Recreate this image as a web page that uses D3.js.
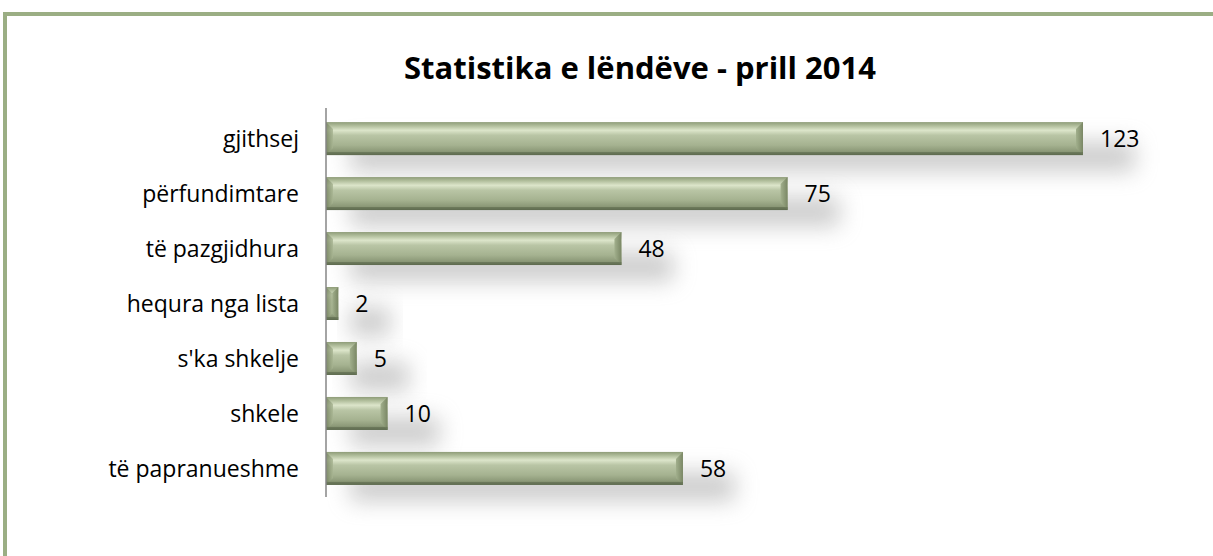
<!DOCTYPE html>
<html>
<head>
<meta charset="utf-8">
<script src="https://cdn.jsdelivr.net/npm/d3@7"></script>
<style>
  body { margin: 0; background: #fff; }
  svg { display: block; }
</style>
</head>
<body>
<div id="chart"></div>
<script>
// data
const categories = ["gjithsej", "përfundimtare", "të pazgjidhura", "hequra nga lista", "s'ka shkelje", "shkele", "të papranueshme"];
const counts = [123, 75, 48, 2, 5, 10, 58];
const chartTitle = "Statistika e lëndëve - prill 2014";

const width = 1213, height = 556;
const margin = { top: 110, left: 326, bottom: 59 };
const font = "'Open Sans', sans-serif";

const svg = d3.select("#chart")
    .append("svg")
    .attr("width", width)
    .attr("height", height);

const defs = svg.append("defs");

// body of the bar, light band near the top
const bodyGrad = defs.append("linearGradient")
    .attr("id", "barBody")
    .attr("x1", 0).attr("y1", 0).attr("x2", 0).attr("y2", 1);
[[0, "#8e9c78"], [0.12, "#b3c09e"], [0.25, "#dce5ca"], [0.4, "#b9c5a5"], [0.7, "#a5b290"], [0.9, "#8a9776"], [1, "#5f6b50"]]
    .forEach(s => bodyGrad.append("stop").attr("offset", s[0]).attr("stop-color", s[1]));

const endGrad = defs.append("linearGradient")
    .attr("id", "barEnd")
    .attr("x1", 0).attr("y1", 0).attr("x2", 1).attr("y2", 0);
endGrad.append("stop").attr("offset", 0).attr("stop-color", "#a2b08d");
endGrad.append("stop").attr("offset", 1).attr("stop-color", "#7a8765");

const startGrad = defs.append("linearGradient")
    .attr("id", "barStart")
    .attr("x1", 0).attr("y1", 0).attr("x2", 1).attr("y2", 0);
startGrad.append("stop").attr("offset", 0).attr("stop-color", "#74815f");
startGrad.append("stop").attr("offset", 1).attr("stop-color", "#a8b592");

const blur = defs.append("filter")
    .attr("id", "softShadow")
    .attr("x", "-30%").attr("y", "-100%")
    .attr("width", "160%").attr("height", "300%");
blur.append("feGaussianBlur").attr("stdDeviation", 11);

// frame
svg.append("rect")
    .attr("x", 5).attr("y", 14)
    .attr("width", width + 10).attr("height", height + 10)
    .attr("fill", "none")
    .attr("stroke", "#9bae84")
    .attr("stroke-width", 4);

svg.append("text")
    .attr("x", 640)
    .attr("y", 79)
    .attr("text-anchor", "middle")
    .attr("font-family", font)
    .attr("font-weight", "bold")
    .attr("font-size", 31)
    .attr("fill", "#000")
    .text(chartTitle);

const x = d3.scaleLinear()
    .domain([0, 123])
    .range([margin.left, 1083]);

const y = d3.scaleBand()
    .domain(categories)
    .range([margin.top, height - margin.bottom])
    .paddingInner(0.4)
    .paddingOuter(0.22);

const bh = y.bandwidth();

// shadows first
svg.append("g")
    .selectAll("rect")
    .data(counts)
    .join("rect")
    .attr("x", (d, i) => x(0) + 24)
    .attr("y", (d, i) => y(categories[i]) + bh * 0.6)
    .attr("width", d => Math.max(x(d) - x(0) + 28, 20))
    .attr("height", bh * 0.9)
    .attr("fill", "#9c9c9c")
    .attr("opacity", 0.5)
    .attr("filter", "url(#softShadow)");

const bars = svg.append("g")
    .selectAll("g")
    .data(counts)
    .join("g")
    .attr("transform", (d, i) => `translate(${x(0)},${y(categories[i])})`);

const bev = 7;

bars.append("rect")
    .attr("width", d => x(d) - x(0))
    .attr("height", bh)
    .attr("fill", "url(#barBody)");

// left bevel
bars.append("path")
    .attr("d", d => {
        const w = Math.min(bev, (x(d) - x(0)) / 2);
        return `M0,0L${w},${w}L${w},${bh - w}L0,${bh}Z`;
    })
    .attr("fill", "url(#barStart)")
    .attr("opacity", 0.8);

// right bevel
bars.append("path")
    .attr("d", d => {
        const bw = x(d) - x(0);
        const w = Math.min(bev, bw / 2);
        return `M${bw},0L${bw - w},${w}L${bw - w},${bh - w}L${bw},${bh}Z`;
    })
    .attr("fill", "url(#barEnd)");

// bottom dark edge
bars.append("rect")
    .attr("y", bh - 3)
    .attr("width", d => x(d) - x(0))
    .attr("height", 3)
    .attr("fill", "#5d6a4e")
    .attr("opacity", 0.6);

// value labels
svg.append("g")
    .selectAll("text")
    .data(counts)
    .join("text")
    .attr("x", d => x(d) + 17)
    .attr("y", (d, i) => y(categories[i]) + bh / 2)
    .attr("dy", "0.36em")
    .attr("font-family", font)
    .attr("font-size", 23)
    .attr("fill", "#000")
    .text(d => d);

// category axis
const yAxis = svg.append("g")
    .attr("transform", `translate(${x(0)},0)`)
    .call(d3.axisLeft(y).tickSize(0).tickPadding(27));

yAxis.select(".domain")
    .attr("d", `M0,${margin.top - 2}V${height - margin.bottom}`)
    .attr("stroke", "#868686")
    .attr("stroke-width", 1.5);

yAxis.selectAll("text")
    .attr("font-family", font)
    .attr("font-size", 23)
    .attr("dy", "0.36em")
    .attr("fill", "#000");
</script>
</body>
</html>
